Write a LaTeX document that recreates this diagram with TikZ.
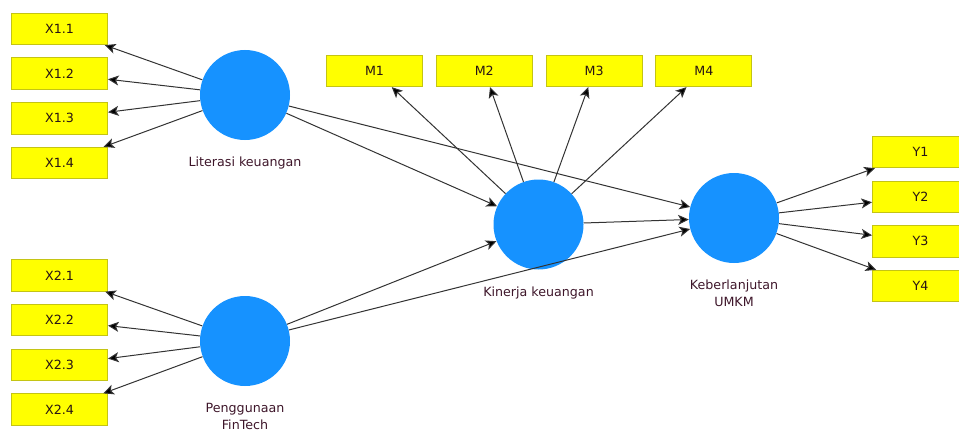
\documentclass[tikz,border=0pt]{standalone}
\usepackage{fontspec}
\setmainfont{DejaVu Sans}
\usetikzlibrary{arrows.meta,positioning}
\definecolor{indfill}{RGB}{255,255,0}
\definecolor{indline}{RGB}{196,196,20}
\definecolor{lvfill}{RGB}{22,146,255}
\definecolor{lvtext}{RGB}{62,22,42}
\definecolor{indtext}{RGB}{40,20,20}

\begin{document}
\begin{tikzpicture}[x=0.75pt,y=-0.75pt,
    ind/.style={draw=indline,fill=indfill,line width=0.75pt,minimum width=72pt,minimum height=23.5pt,inner sep=0pt,text=indtext,font=\fontsize{9.5}{11}\selectfont},
    lv/.style={circle,fill=lvfill,minimum size=67.5pt,inner sep=0pt},
    lvlabel/.style={text=lvtext,align=center,font=\fontsize{9.5}{13}\selectfont},
    post/.style={-{Stealth[length=8pt,width=7.5pt,inset=2pt,fill=black]},line width=0.75pt,draw=black!80},
    node distance=9.25pt and 9.6pt
    ]
\clip (0,0) rectangle (959,435);

% latent variables
\node[lv] (lit) at (245,95) {};
\node[lv] (peng) at (245,341) {};
\node[lv] (kin) at (538.5,224.5) {};
\node[lv] (keb) at (734,218) {};

\node[lvlabel, below=9pt of lit] (litlbl) {Literasi keuangan};
\node[lvlabel, below=9pt of peng] (penglbl) {Penggunaan\\FinTech};
\node[lvlabel, below=9pt of kin] (kinlbl) {Kinerja keuangan};
\node[lvlabel, below=9pt of keb] (keblbl) {Keberlanjutan\\UMKM};

% indicators
\node[ind] (x11) at (59.5,29) {X1.1};
\node[ind, below=of x11] (x12) {X1.2};
\node[ind, below=of x12] (x13) {X1.3};
\node[ind, below=of x13] (x14) {X1.4};

\node[ind] (x21) at (59.5,275.5) {X2.1};
\node[ind, below=of x21] (x22) {X2.2};
\node[ind, below=of x22] (x23) {X2.3};
\node[ind, below=of x23] (x24) {X2.4};

\node[ind] (m1) at (374.5,71) {M1};
\node[ind, right=of m1] (m2) {M2};
\node[ind, right=of m2] (m3) {M3};
\node[ind, right=of m3] (m4) {M4};

\node[ind] (y1) at (920.5,152) {Y1};
\node[ind, below=of y1] (y2) {Y2};
\node[ind, below=of y2] (y3) {Y3};
\node[ind, below=of y3] (y4) {Y4};

% outer model
\draw[post] (lit) -- (x11);
\draw[post] (lit) -- (x12);
\draw[post] (lit) -- (x13);
\draw[post] (lit) -- (x14);
\draw[post] (peng) -- (x21);
\draw[post] (peng) -- (x22);
\draw[post] (peng) -- (x23);
\draw[post] (peng) -- (x24);
\draw[post] (kin) -- (m1);
\draw[post] (kin) -- (m2);
\draw[post] (kin) -- (m3);
\draw[post] (kin) -- (m4);
\draw[post] (keb) -- (y1);
\draw[post] (keb) -- (y2);
\draw[post] (keb) -- (y3);
\draw[post] (keb) -- (y4);

% inner model
\draw[post] (lit) -- (kin);
\draw[post] (lit) -- (keb);
\draw[post] (peng) -- (kin);
\draw[post] (peng) -- (keb);
\draw[post] (kin) -- (keb);

\end{tikzpicture}
\end{document}
